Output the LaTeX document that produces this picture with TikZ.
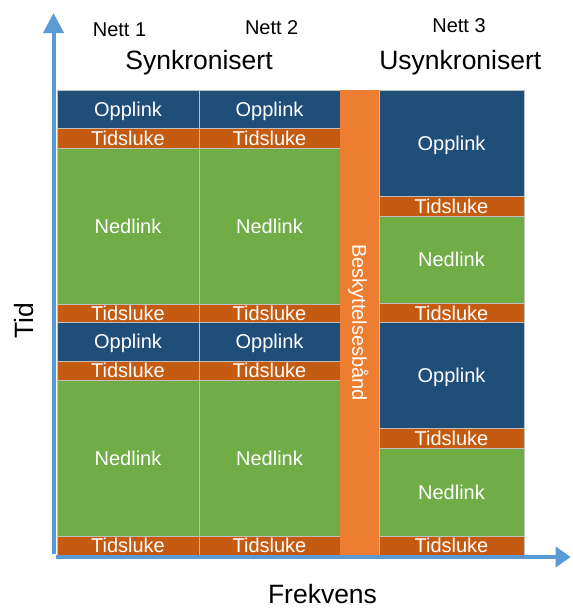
\documentclass[tikz,border=0pt]{standalone}
\usepackage{fontspec}
\setmainfont{Liberation Sans}
\usetikzlibrary{arrows.meta}

\definecolor{opplinkblaa}{HTML}{1F4E79}
\definecolor{tidsoransje}{HTML}{C55A11}
\definecolor{nedlinkgronn}{HTML}{70AD47}
\definecolor{vernoransje}{HTML}{ED7D31}
\definecolor{akseblaa}{HTML}{5B9BD5}

\tikzset{
	opp/.style={fill=opplinkblaa, draw=black!25, line width=0.6pt},
	tids/.style={fill=tidsoransje, draw=black!25, line width=0.6pt},
	ned/.style={fill=nedlinkgronn, draw=black!25, line width=0.6pt},
	merke/.style={text=white, font=\fontsize{20}{24}\selectfont, inner sep=0pt, text height=14.3pt, text depth=0pt},
	liten/.style={font=\fontsize{20}{24}\selectfont, inner sep=0pt, anchor=base},
	stor/.style={font=\fontsize{26.5}{30}\selectfont, inner sep=0pt, anchor=base},
	akse/.style={line width=4pt, color=akseblaa}
}

\def\felt[#1](#2,#3)(#4,#5)(#6)#7{\draw[#1] (#2,#3) rectangle (#4,#5); \node[merke] (#6) at ({(#2+#4)/2},{(#3+#5)/2}) {#7};}

\begin{document}
\begin{tikzpicture}[x=1pt, y=-1pt]
			%%%%% START %%%%%
			\useasboundingbox (0,0) rectangle (573,608);
			
			% nett 1
			\felt[opp](57,90)(199,128.5)(opp1a){Opplink};
			\felt[tids](57,128.5)(199,148)(tid1a){Tidsluke};
			\felt[ned](57,148)(199,304)(ned1a){Nedlink};
			\felt[tids](57,304)(199,322.5)(tid1b){Tidsluke};
			\felt[opp](57,322.5)(199,361)(opp1b){Opplink};
			\felt[tids](57,361)(199,380.5)(tid1c){Tidsluke};
			\felt[ned](57,380.5)(199,536)(ned1b){Nedlink};
			\felt[tids](57,536)(199,555)(tid1d){Tidsluke};
			
			% nett 2
			\felt[opp](199,90)(340,128.5)(opp2a){Opplink};
			\felt[tids](199,128.5)(340,148)(tid2a){Tidsluke};
			\felt[ned](199,148)(340,304)(ned2a){Nedlink};
			\felt[tids](199,304)(340,322.5)(tid2b){Tidsluke};
			\felt[opp](199,322.5)(340,361)(opp2b){Opplink};
			\felt[tids](199,361)(340,380.5)(tid2c){Tidsluke};
			\felt[ned](199,380.5)(340,536)(ned2b){Nedlink};
			\felt[tids](199,536)(340,555)(tid2d){Tidsluke};
			
			% nett 3
			\felt[opp](379,90)(524,196)(opp3a){Opplink};
			\felt[tids](379,196)(524,216)(tid3a){Tidsluke};
			\felt[ned](379,216)(524,303.5)(ned3a){Nedlink};
			\felt[tids](379,303.5)(524,322.5)(tid3b){Tidsluke};
			\felt[opp](379,322.5)(524,428.5)(opp3b){Opplink};
			\felt[tids](379,428.5)(524,448.5)(tid3c){Tidsluke};
			\felt[ned](379,448.5)(524,536)(ned3b){Nedlink};
			\felt[tids](379,536)(524,555)(tid3d){Tidsluke};
			
			% vernebånd
			\fill[vernoransje] (340,90) rectangle (379,555);
			\node[merke, rotate=-90] (vern) at (359.5,322.5) {Beskyttelsesbånd};
			
			% overskrifter
			\node[liten] (nett1) at (119.5,36) {Nett 1};
			\node[liten] (nett2) at (271.7,34.3) {Nett 2};
			\node[liten] (nett3) at (459,32.3) {Nett 3};
			\node[stor] (synk) at (199,69) {Synkronisert};
			\node[stor] (usynk) at (460.3,69.3) {Usynkronisert};
			
			% akser
			\coordinate (origo) at (53.5,554);
			\coordinate (tidtopp) at (53.5,13);
			\coordinate (frekstart) at (56,557);
			\coordinate (frekslutt) at (570.7,557);
			\draw[akse, -{Triangle[length=20pt, width=20pt]}] (origo) -- (tidtopp);
			\draw[akse, -{Triangle[length=15pt, width=20pt]}] (frekstart) -- (frekslutt);
			\node[stor, rotate=90] (tid) at (33.3,321) {Tid};
			\node[stor] (frekvens) at (322.5,603.5) {Frekvens};
			
			%%%%% END %%%%%
\end{tikzpicture}
\end{document}
